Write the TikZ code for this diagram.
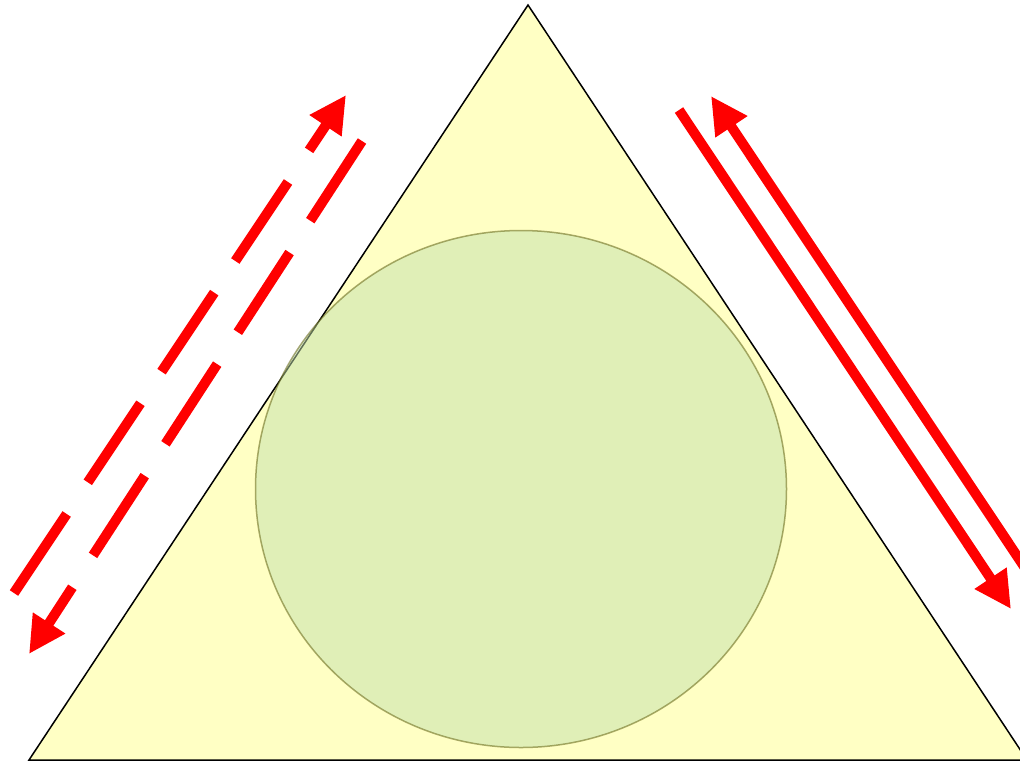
\documentclass[tikz,border=0pt]{standalone}
\usetikzlibrary{arrows.meta,shapes.geometric}
\definecolor{triyellow}{RGB}{255,255,196}
\definecolor{circgreen}{RGB}{195,225,172}
\definecolor{circedge}{RGB}{100,100,20}
\tikzset{
  redarrow/.style={draw=red, line width=10pt, -{Triangle[length=37pt,width=36pt]}},
  reddash/.style={redarrow, dash pattern=on 95pt off 38pt},
}
\begin{document}
\begin{tikzpicture}[x=1pt,y=-1pt]
\useasboundingbox (0,0) rectangle (1020,764);
\clip (0,0) rectangle (1020,764);
\coordinate (A) at (528,5);
\coordinate (B) at (29,760);
\coordinate (C) at (1027,760);
\draw[fill=triyellow, line width=1.5pt] (A) -- (B) -- (C) -- cycle;
\node[ellipse, minimum width=531pt, minimum height=517pt, inner sep=0pt, fill=circgreen, fill opacity=0.5, draw=circedge, draw opacity=0.55, line width=1.5pt] (circ) at (521,489) {};
% left dashed arrows
\coordinate (l1s) at (14,593);
\coordinate (l1e) at (346,95);
\coordinate (l2s) at (362,141);
\coordinate (l2e) at (29,654);
\draw[reddash] (l1s) -- (l1e);
\draw[reddash] (l2s) -- (l2e);
% right solid arrows
\coordinate (r1s) at (679,110);
\coordinate (r1e) at (1011,609);
\coordinate (r2s) at (1043,595);
\coordinate (r2e) at (711,96);
\draw[redarrow] (r1s) -- (r1e);
\draw[redarrow] (r2s) -- (r2e);
\end{tikzpicture}
\end{document}
